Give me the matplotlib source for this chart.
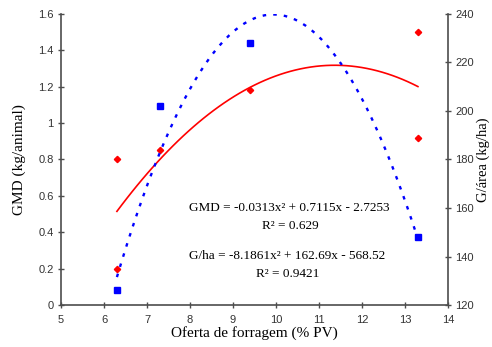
import numpy as np
import matplotlib
matplotlib.use('Agg')
from matplotlib import pyplot as plt

# dados
oferta_gmd = [6.3, 6.3, 7.3, 9.4, 13.3, 13.3]
gmd = [0.80, 0.20, 0.85, 1.18, 1.50, 0.92]

oferta_gha = [6.3, 7.3, 9.4, 13.3]
gha = [126, 202, 228, 148]

# coeficientes das regressoes (do proprio grafico)
coef_gmd = [-0.0313, 0.7115, -2.7253]
coef_gha = [-8.1861, 162.69, -568.52]

xticks = [5, 6, 7, 8, 9, 10, 11, 12, 13, 14]
yticks_l = [0, 0.2, 0.4, 0.6, 0.8, 1.0, 1.2, 1.4, 1.6]
yticks_l_lab = ['0', '0.2', '0.4', '0.6', '0.8', '1', '1.2', '1.4', '1.6']
yticks_r = [120, 140, 160, 180, 200, 220, 240]

serif = ['Liberation Serif', 'DejaVu Serif']
sans = ['Liberation Sans', 'DejaVu Sans']
spine_c = '#4d4d4d'

fig = plt.figure(figsize=(4.92, 3.47), dpi=100)
ax = fig.add_axes([0.124, 0.121, 0.7866, 0.8387])
ax2 = ax.twinx()

xs = np.linspace(6.3, 13.3, 60)
ax.plot(xs, np.polyval(coef_gmd, xs), color='red', lw=1.2, zorder=2)
ax.plot(oferta_gmd, gmd, linestyle='none', marker='D', ms=3.2, color='red', zorder=3)

ax2.plot(xs, np.polyval(coef_gha, xs), color='blue', lw=1.7, linestyle=(0, (1.5, 3.0)), zorder=2)
ax2.plot(oferta_gha, gha, linestyle='none', marker='s', ms=5, color='blue', zorder=3)

ax.set_xlim(5, 14)
ax.set_ylim(0, 1.6)
ax2.set_ylim(120, 240)
ax.set_xticks(xticks)
ax.set_yticks(yticks_l)
ax.set_yticklabels(yticks_l_lab)
ax2.set_yticks(yticks_r)

for a in (ax, ax2):
    a.spines['top'].set_visible(False)
    for s in ('left', 'right', 'bottom'):
        a.spines[s].set_color(spine_c)
        a.spines[s].set_linewidth(1.2)
    a.tick_params(direction='inout', length=4.5, width=1, color=spine_c,
                  labelsize=8, labelcolor='#333333', pad=3)
    for lab in a.get_xticklabels() + a.get_yticklabels():
        lab.set_family(sans)
ax.spines['right'].set_visible(False)
ax2.spines['left'].set_visible(False)
ax2.spines['bottom'].set_visible(False)
ax.tick_params(axis='x', pad=5)

ax.set_xlabel('Oferta de forragem (% PV)', family=serif, fontsize=11, labelpad=1)
ax.set_ylabel('GMD (kg/animal)', family=serif, fontsize=11, labelpad=9)
ax2.set_ylabel('G/área (kg/ha)', family=serif, fontsize=10.5, labelpad=2)

ax.text(10.3, 0.533, 'GMD = -0.0313x² + 0.7115x - 2.7253', family=serif, fontsize=9.5,
        ha='center', va='center')
ax.text(10.33, 0.434, 'R² = 0.629', family=serif, fontsize=9.5, ha='center', va='center')
ax.text(10.27, 0.269, 'G/ha = -8.1861x² + 162.69x - 568.52', family=serif, fontsize=9.5,
        ha='center', va='center')
ax.text(10.27, 0.17, 'R² = 0.9421', family=serif, fontsize=9.5, ha='center', va='center')

fig.savefig('out.png', dpi=100)
